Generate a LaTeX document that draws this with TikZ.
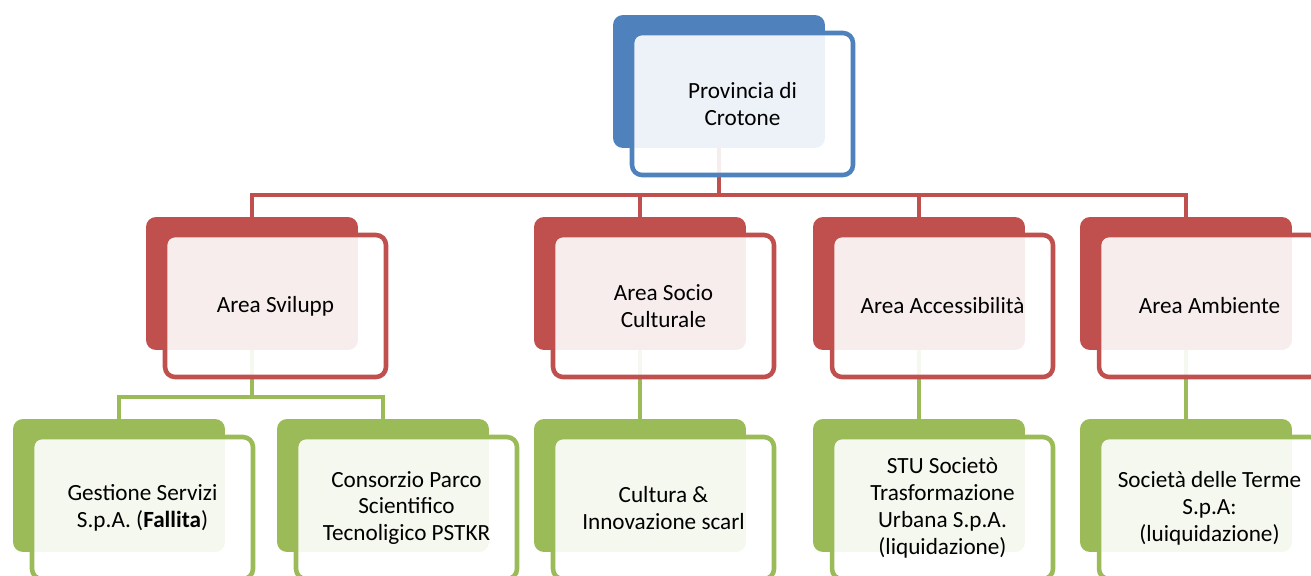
\documentclass[tikz,border=0pt]{standalone}
\usepackage{fontspec}
\setmainfont{Carlito}
\usetikzlibrary{positioning}
\definecolor{blu}{HTML}{4F81BD}
\definecolor{ros}{HTML}{C0504D}
\definecolor{ver}{HTML}{9BBB59}
\pgfdeclarelayer{bg}
\pgfsetlayers{bg,main}

\def\dx{23.5}
\def\dy{22.5}

\begin{document}
\begin{tikzpicture}[x=0.02cm,y=-0.02cm,
  back/.style={rounded corners=0.2cm,minimum width=4.24cm,minimum height=2.66cm,fill=#1},
  front/.style={draw=#1,line width=2.6pt,rounded corners=0.2cm,fill=white,fill opacity=.9,text opacity=1,
    minimum width=4.42cm,minimum height=2.84cm,align=center,font=\fontsize{13.2}{15.3}\selectfont},
  link/.style={draw=#1,line width=2.7pt}]
  \useasboundingbox (0,0) rectangle (1311,575);

  \foreach \name/\x/\y/\col/\txt in {
      prov/719/81.5/blu/{Provincia di\\Crotone},
      a1/252/283.5/ros/{Area Svilupp},
      a2/640/283.5/ros/{Area Socio\\Culturale},
      a3/919/283.5/ros/{Area Accessibilità},
      a4/1186/283.5/ros/{Area Ambiente},
      c1/119/485.5/ver/{Gestione Servizi\\S.p.A. (\textbf{Fallita})},
      c2/383/485.5/ver/{Consorzio Parco\\Scientifico\\Tecnoligico PSTKR},
      c3/640/485.5/ver/{Cultura \&\\Innovazione scarl},
      c4/919/485.5/ver/{STU Societò\\Trasformazione\\Urbana S.p.A.\\(liquidazione)},
      c5/1186/485.5/ver/{Società delle Terme\\S.p.A:\\(luiquidazione)}} {
    \node[back=\col] (\name) at (\x,\y) {};
    \node[front=\col] (\name-t) at ([shift={(\dx,\dy)}]\name.center) {\txt};
  }

  \coordinate (rbar) at (0,195);
  \coordinate (gbar) at (0,397);
  \begin{pgfonlayer}{bg}
    \foreach \a in {a1,a2,a3,a4}
      \draw[link=ros] (prov.south) -- (prov.south |- rbar) -| (\a.north);
    \foreach \c in {c1,c2}
      \draw[link=ver] (a1.south) -- (a1.south |- gbar) -| (\c.north);
    \draw[link=ver] (a2.south) -- (c3.north);
    \draw[link=ver] (a3.south) -- (c4.north);
    \draw[link=ver] (a4.south) -- (c5.north);
  \end{pgfonlayer}
\end{tikzpicture}
\end{document}
